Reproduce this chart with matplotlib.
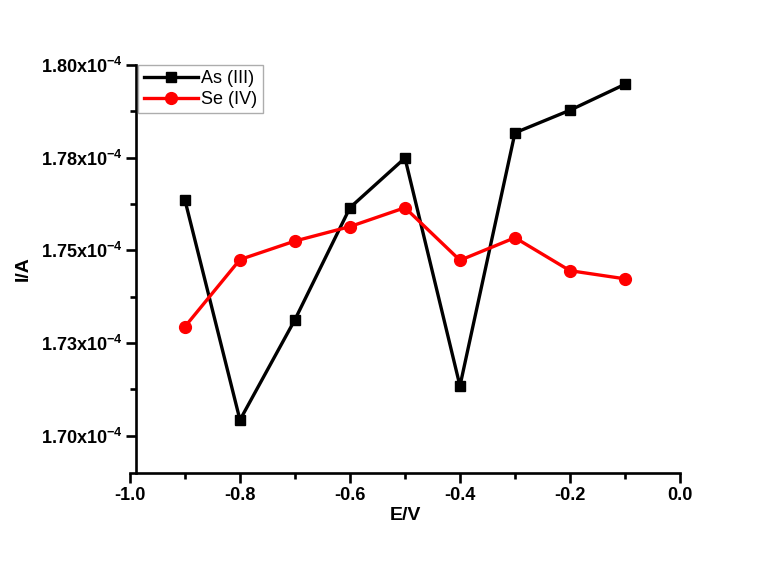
import numpy as np
import matplotlib.pyplot as plt
from matplotlib.ticker import FixedLocator, MultipleLocator

plt.rcParams['font.family'] = ['Liberation Sans', 'DejaVu Sans']
plt.rcParams['mathtext.fontset'] = 'custom'
plt.rcParams['mathtext.rm'] = 'Liberation Sans'
plt.rcParams['mathtext.bf'] = 'Liberation Sans:bold'

E = [-0.9, -0.8, -0.7, -0.6, -0.5, -0.4, -0.3, -0.2, -0.1]
I_as = [1.7635, 1.7042, 1.7313, 1.7615, 1.7749, 1.7134, 1.7817, 1.7878, 1.7948]
I_se = [1.7294, 1.7475, 1.7525, 1.7564, 1.7615, 1.7473, 1.7534, 1.7445, 1.7423]

yticks = [1.70, 1.725, 1.75, 1.775, 1.80]
ytick_labels = ['1.70x10$^{\\mathbf{-4}}$', '1.73x10$^{\\mathbf{-4}}$',
                '1.75x10$^{\\mathbf{-4}}$', '1.78x10$^{\\mathbf{-4}}$',
                '1.80x10$^{\\mathbf{-4}}$']
xticks = [-1.0, -0.8, -0.6, -0.4, -0.2, 0.0]

scale = 1e-4
fig = plt.figure(figsize=(7.71, 5.62), dpi=100)
ax = fig.add_axes([0.1686, 0.1584, 0.7133, 0.7259])

ax.plot(E, np.array(I_as) * scale, '-s', color='black', lw=2.4, ms=7.5,
        label='As (III)')
ax.plot(E, np.array(I_se) * scale, '-o', color='red', lw=2.4, ms=8.5,
        label='Se (IV)')

ax.set_xlim(-1.0, 0.0)
ax.set_ylim(1.6899 * scale, 1.80 * scale)

ax.spines['top'].set_visible(False)
ax.spines['right'].set_visible(False)
ax.spines['left'].set_position(('data', -0.989))
for s in ('left', 'bottom'):
    ax.spines[s].set_linewidth(1.9)

ax.set_xticks(xticks)
ax.set_xticklabels(['%.1f' % v for v in xticks])
ax.xaxis.set_minor_locator(MultipleLocator(0.1))
ax.yaxis.set_major_locator(FixedLocator([v * scale for v in yticks]))
ax.set_yticklabels(ytick_labels)
ax.yaxis.set_minor_locator(FixedLocator([v * scale for v in np.arange(1.6875, 1.80, 0.0125)]))

ax.tick_params(which='major', direction='out', length=7, width=1.9,
               labelsize=13, pad=3)
ax.tick_params(which='minor', direction='out', length=4, width=1.9)
for lab in ax.get_xticklabels() + ax.get_yticklabels():
    lab.set_fontweight('bold')

ax.set_xlabel('E/V', fontsize=14, fontweight='bold', labelpad=2)
ax.set_ylabel('I/A', fontsize=14, fontweight='bold', labelpad=6)

leg = ax.legend(loc='upper left', bbox_to_anchor=(0.015, 1.0), fontsize=13,
                frameon=True, fancybox=False, borderpad=0.3,
                handlelength=3.0, handletextpad=0.2, labelspacing=0.2,
                borderaxespad=0.0)
leg.get_frame().set_edgecolor('#999999')
leg.get_frame().set_linewidth(1.0)

fig.savefig('out.png', dpi=100)
